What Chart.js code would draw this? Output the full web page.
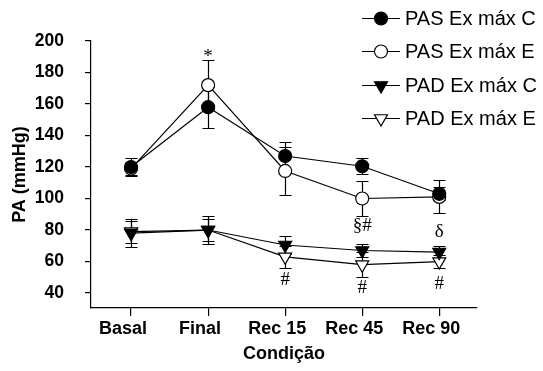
<!DOCTYPE html>
<html><head><meta charset="utf-8">
<script src="https://cdn.jsdelivr.net/npm/chart.js@4/dist/chart.umd.min.js"></script>
<style>html,body{margin:0;padding:0;background:#fff}</style>
</head><body>
<canvas id="c" width="543" height="371" style="display:block"></canvas>
<script>
const categories = ['Basal', 'Final', 'Rec 15', 'Rec 45', 'Rec 90'];
const yTicks = [40, 60, 80, 100, 120, 140, 160, 180, 200];
const seriesLabels = ['PAS Ex máx C', 'PAS Ex máx E', 'PAD Ex máx C', 'PAD Ex máx E'];
const pasC = [120, 158, 127, 120.5, 103];
const pasCErr = [6, 13, 9, 5, 4];
const pasE = [119, 172, 117.5, 100, 101];
const pasEErr = [4, 16, 15.5, 11, 10.5];
const padC = [78, 80, 70.5, 67, 66];
const padCErr = [9, 9, 6, 4, 4];
const padE = [79, 80, 63, 58, 60];
const padEErr = [7, 7, 7, 8, 4];
const notes = ['*', '§#', 'δ', '#', '#', '#'];
const noteCat = [1, 3, 4, 2, 3, 4];
const noteVal = [190, 82.5, 78.5, 48, 43.5, 46];
const yTitle = 'PA (mmHg)';
const xTitle = 'Condição';

const FONT = '"Liberation Sans", Arial, sans-serif';
Chart.defaults.font.family = FONT;
Chart.defaults.color = '#000';

function mk(label, vals, errs, style, filled) {
  return {
    label: label,
    data: vals.map((v, i) => ({x: i, y: v})),
    errors: errs,
    borderColor: '#000',
    borderWidth: 1.2,
    backgroundColor: filled ? '#000' : '#fff',
    pointBackgroundColor: filled ? '#000' : '#fff',
    pointBorderColor: '#000',
    pointBorderWidth: 1.2,
    pointStyle: style,
    pointRotation: style === 'triangle' ? 180 : 0,
    pointRadius: style === 'triangle' ? 7.5 : 6.5,
    tension: 0,
    fill: false
  };
}

const extras = {
  id: 'extras',
  beforeDatasetsDraw(chart) {
    const {ctx, scales: {x, y}} = chart;
    ctx.save();
    ctx.strokeStyle = '#000';
    ctx.lineWidth = 1.2;
    chart.data.datasets.forEach(ds => {
      ds.data.forEach((p, i) => {
        const e = ds.errors[i];
        const px = Math.round(x.getPixelForValue(p.x)) + 0.5;
        const yt = Math.round(y.getPixelForValue(p.y + e)) + 0.5;
        const yb = Math.round(y.getPixelForValue(p.y - e)) + 0.5;
        ctx.beginPath();
        ctx.moveTo(px, yt); ctx.lineTo(px, yb);
        ctx.moveTo(px - 6, yt); ctx.lineTo(px + 6, yt);
        ctx.moveTo(px - 6, yb); ctx.lineTo(px + 6, yb);
        ctx.stroke();
      });
    });
    ctx.restore();
  },
  afterDatasetsDraw(chart) {
    const {ctx, scales: {x, y}} = chart;
    ctx.save();
    // annotations
    ctx.fillStyle = '#000';
    ctx.font = '19px "Liberation Serif", "Times New Roman", serif';
    ctx.textAlign = 'center';
    ctx.textBaseline = 'middle';
    notes.forEach((t, i) => {
      ctx.fillText(t, x.getPixelForValue(noteCat[i]), y.getPixelForValue(noteVal[i]));
    });
    // legend
    ctx.font = '20px ' + FONT;
    ctx.textAlign = 'left';
    chart.data.datasets.forEach((ds, i) => {
      const yy = Math.round(18 + i * 33.3) + 0.5;
      ctx.strokeStyle = '#000';
      ctx.lineWidth = 1.2;
      ctx.beginPath(); ctx.moveTo(362, yy); ctx.lineTo(400, yy); ctx.stroke();
      ctx.fillStyle = ds.pointBackgroundColor;
      Chart.helpers.drawPoint(ctx, {pointStyle: ds.pointStyle, rotation: ds.pointRotation, radius: ds.pointRadius, borderWidth: 1.2}, 381, yy);
      ctx.fillStyle = '#000';
      ctx.fillText(ds.label, 405, yy + 1);
    });
    ctx.restore();
  }
};

new Chart(document.getElementById('c'), {
  type: 'line',
  data: {
    datasets: [
      mk(seriesLabels[0], pasC, pasCErr, 'circle', true),
      mk(seriesLabels[1], pasE, pasEErr, 'circle', false),
      mk(seriesLabels[2], padC, padCErr, 'triangle', true),
      mk(seriesLabels[3], padE, padEErr, 'triangle', false)
    ]
  },
  options: {
    responsive: false,
    animation: false,
    devicePixelRatio: 1,
    layout: {padding: {top: 41, right: 66, left: 0, bottom: 0}},
    plugins: {legend: {display: false}, tooltip: {enabled: false}},
    scales: {
      x: {
        type: 'linear',
        min: -0.52,
        max: 4.49,
        afterBuildTicks: s => { s.ticks = categories.map((c, i) => ({value: i})); },
        afterFit: s => { s.height = 63; },
        grid: {display: true, drawOnChartArea: false, drawTicks: true, tickLength: 8, color: '#000', lineWidth: 1.2},
        border: {display: true, color: '#000', width: 1.2},
        ticks: {
          callback: v => categories[v],
          font: {size: 18, weight: 'bold'},
          color: '#000',
          padding: 2,
          labelOffset: -8,
          maxRotation: 0,
          autoSkip: false
        },
        title: {display: true, text: xTitle, font: {size: 18, weight: 'bold'}, color: '#000', padding: {top: 0, bottom: 6}}
      },
      y: {
        type: 'linear',
        min: 30.5,
        max: 200,
        afterBuildTicks: s => { s.ticks = yTicks.map(v => ({value: v})); },
        afterFit: s => { s.width = 91; },
        grid: {display: true, drawOnChartArea: false, drawTicks: true, tickLength: 6, color: '#000', lineWidth: 1.2},
        border: {display: true, color: '#000', width: 1.2},
        ticks: {font: {size: 17.5, weight: 'bold'}, color: '#000', padding: 21},
        title: {display: true, text: yTitle, font: {size: 18, weight: 'bold'}, color: '#000', padding: {top: 9, bottom: 0}}
      }
    }
  },
  plugins: [extras]
});
</script>
</body></html>
